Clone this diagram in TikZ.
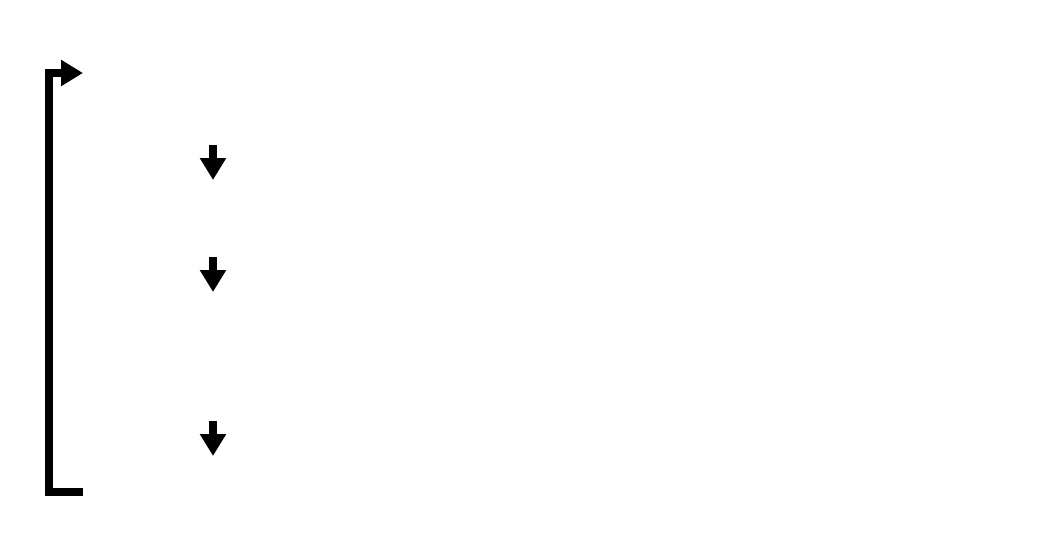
\documentclass[tikz,border=0pt]{standalone}
\usepackage{tikz}
\usetikzlibrary{arrows.meta, positioning}

\begin{document}
\begin{tikzpicture}[
            x=1pt, y=-1pt,
            arrow/.style={-{Triangle[length=22pt, width=25pt]}, line width=8pt},
            loop/.style={arrow, line join=miter}
        ]
            \useasboundingbox (0,0) rectangle (1063,543);
            % down arrows
            \coordinate (s1_top) at (213,145);
            \coordinate (s1_bot) at (213,180);
            \coordinate (s2_top) at (213,257);
            \coordinate (s2_bot) at (213,292);
            \coordinate (s3_top) at (213,421);
            \coordinate (s3_bot) at (213,456);
            \draw[arrow] (s1_top) -- (s1_bot);
            \draw[arrow] (s2_top) -- (s2_bot);
            \draw[arrow] (s3_top) -- (s3_bot);

            % return loop
            \coordinate (loop_start) at (83,492);
            \coordinate (loop_end) at (83,73);
            \draw[loop] (loop_start) -- (49,492) -- (49,73) -- (loop_end);
        \end{tikzpicture}
\end{document}
